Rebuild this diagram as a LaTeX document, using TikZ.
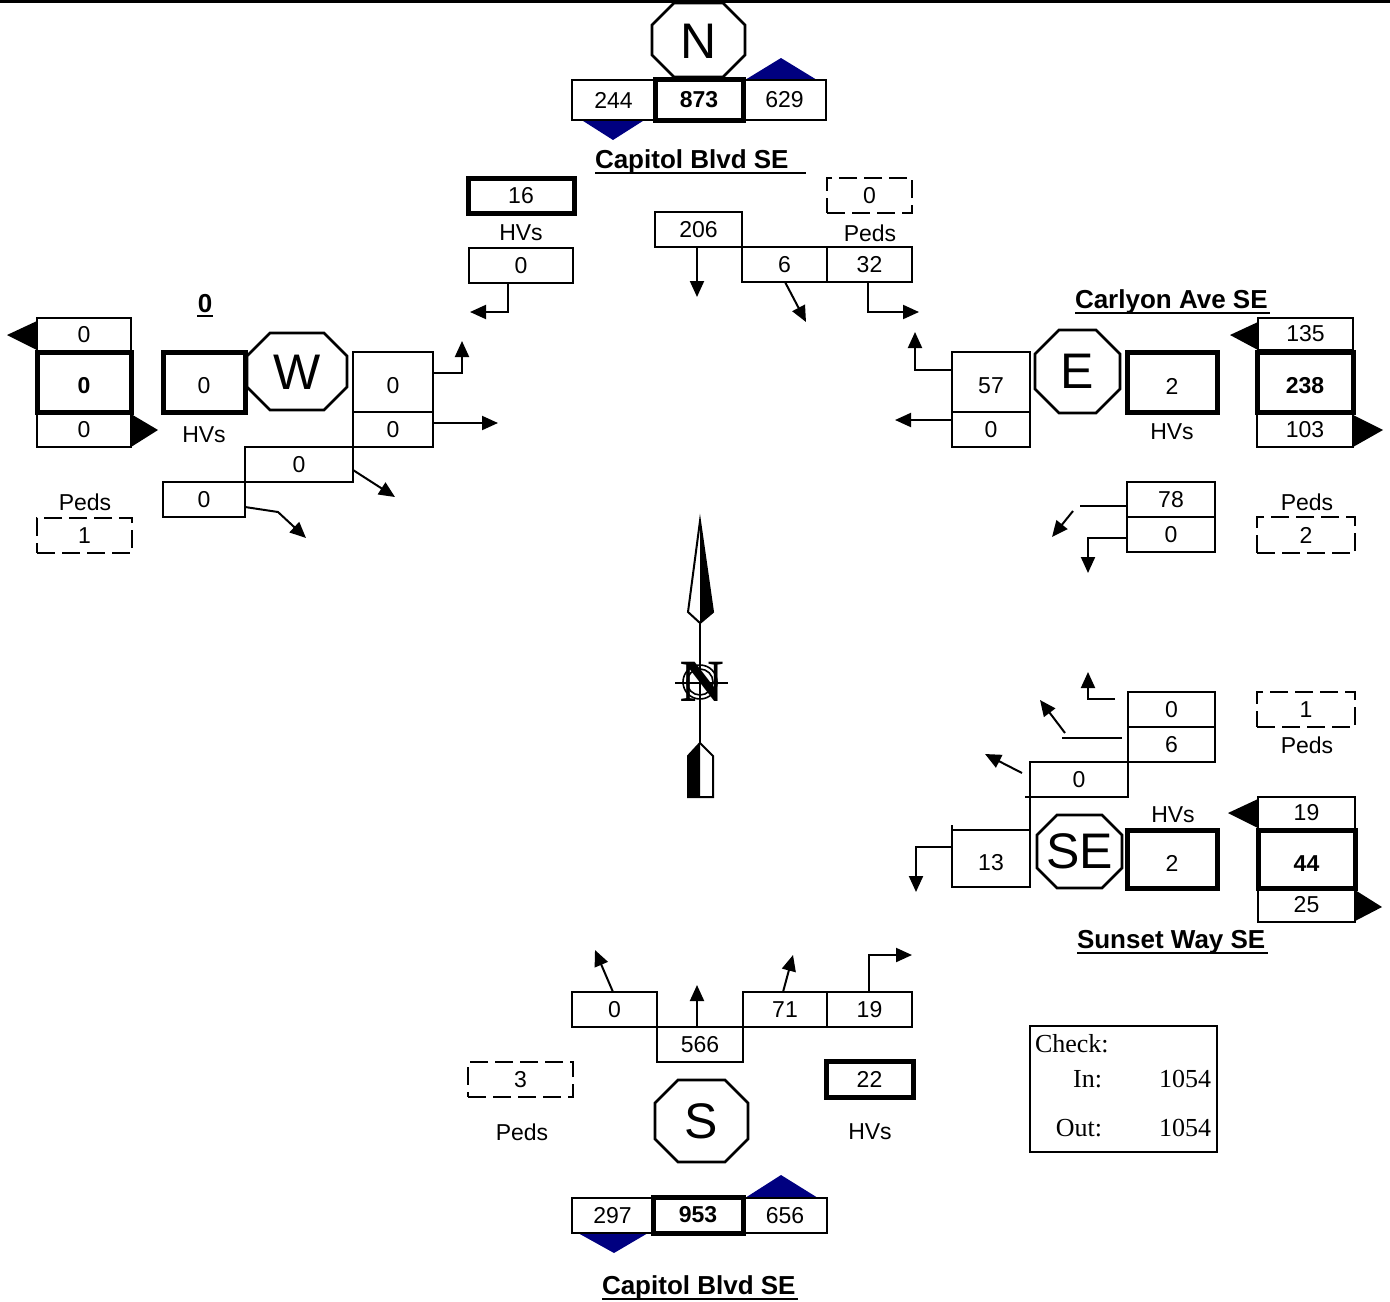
\documentclass[tikz,border=0pt]{standalone}
\usepackage{fontspec}
\setmainfont{Liberation Sans}
\newfontfamily\serifface{Liberation Serif}
\usetikzlibrary{arrows.meta}
\definecolor{navyblue}{RGB}{0,0,128}
\newcommand\myoct[5]{%
  \draw[octline] (#1+#5,#2)--(#3-#5,#2)--(#3,#2+#5)--(#3,#4-#5)--(#3-#5,#4)--(#1+#5,#4)--(#1,#4-#5)--(#1,#2+#5)--cycle;}
\newcommand\cellnode[7]{%
  \node[#1, minimum width={(#5-#3)*0.5pt}, minimum height={(#6-#4)*0.5pt}] (#2) at ({(#3+#5)/2},{(#4+#6)/2}) {#7};}
\begin{document}
\begin{tikzpicture}[x=0.5pt,y=-0.5pt,
  every node/.style={inner sep=0pt, outer sep=0pt, font=\fontsize{11.5}{13}\selectfont},
  cell/.style={draw, line width=1.3pt, inner sep=0pt},
  thickcell/.style={draw, line width=2.5pt, inner sep=0pt},
  pedcell/.style={draw, line width=1.3pt, dash pattern=on 9pt off 3.5pt, inner sep=0pt},
  conn/.style={line width=1pt, -{Triangle[length=8pt,width=7pt]}},
  segline/.style={line width=1pt},
  octline/.style={draw, line width=1.3pt},
  octlabel/.style={font=\fontsize{25}{28}\selectfont},
  road/.style={font=\bfseries\fontsize{13}{15}\selectfont},
  bignum/.style={font=\bfseries\fontsize{11.5}{13}\selectfont},
  tallt/.style={text height=12pt},
  chkfont/.style={font=\serifface\fontsize{13}{15}\selectfont}
]
\useasboundingbox (0,0) rectangle (1390,1301);
\draw[line width=1.5pt] (0,1) -- (1390,1);

% ---------------- North ----------------
\myoct{652}{3}{745}{77}{22}
\node[octlabel] (Noct) at (698.5,41) {N};
\fill[navyblue] (580,119)--(646,119)--(613,140)--cycle;
\fill[navyblue] (745,80)--(817,80)--(781,58)--cycle;
\cellnode{cell}{n244}{572}{80}{655}{120}{244}
\cellnode{thickcell,bignum}{n873}{655}{79}{743}{120}{873}
\cellnode{cell}{n629}{743}{80}{826}{120}{629}
\node[road, anchor=base west] (capN) at (595,168) {Capitol Blvd SE};
\draw[line width=1.2pt] (595,173) -- (806,173);

\cellnode{thickcell}{hvN}{468}{178}{574}{213}{16}
\node (hvNl) at (521,233) {HVs};
\cellnode{cell}{n0N}{469}{248}{573}{283}{0}
\coordinate (aN1) at (470,312);
\draw[conn] (508,0 |- n0N.south) -- (508,312) -- (aN1);

\cellnode{pedcell}{pedN}{827}{178}{912}{213}{0}
\node (pedNl) at (870,233) {Peds};
\cellnode{cell}{n206}{655}{212}{742}{247}{206}
\cellnode{cell}{n6N}{742}{247}{827}{282}{6}
\cellnode{cell}{n32}{827}{247}{912}{282}{32}
\coordinate (e206) at (697,297);
\draw[conn] (697,0 |- n206.south) -- (e206);
\coordinate (e6N) at (806,322);
\draw[conn] (785,0 |- n6N.south) -- (e6N);
\coordinate (e32) at (919,312);
\draw[conn] (868,0 |- n32.south) -- (868,312) -- (e32);

% ---------------- West ----------------
\node[road, anchor=base] (wname) at (205,312) {0};
\draw[line width=1.2pt] (197,316) -- (213,316);
\fill (37,321)--(37,350)--(7,335)--cycle;
\cellnode{cell}{wout}{37}{318}{131}{351}{0}
\cellnode{thickcell,bignum,tallt}{wtot}{37}{352}{131}{412}{0}
\cellnode{cell}{win}{37}{412}{131}{447}{0}
\fill (131,414)--(131,447)--(158,430)--cycle;
\cellnode{thickcell,tallt}{hvW}{163}{352}{245}{412}{0}
\node (hvWl) at (204,435) {HVs};
\myoct{247}{333}{347}{410}{23}
\node[octlabel] (Woct) at (297,372) {W};
\cellnode{cell,tallt}{wL}{353}{352}{433}{412}{0}
\cellnode{cell}{wT}{353}{412}{433}{447}{0}
\cellnode{cell}{wR}{245}{447}{353}{482}{0}
\cellnode{cell}{wRR}{163}{482}{245}{517}{0}
\coordinate (ewL) at (462,341);
\draw[conn] (wL.east |- 0,373) -- (462,373) -- (ewL);
\coordinate (ewT) at (498,423);
\draw[conn] (wT.east |- 0,423) -- (ewT);
\coordinate (ewR) at (395,497);
\draw[conn] (wR.east |- 0,470) -- (ewR);
\coordinate (ewRR) at (306,538);
\draw[conn] (wRR.east |- 0,507) -- (278,512) -- (ewRR);
\node (pedWl) at (85,502) {Peds};
\cellnode{pedcell}{pedW}{37}{518}{132}{553}{1}

% ---------------- East ----------------
\node[road, anchor=base west] (ename) at (1075,308) {Carlyon Ave SE};
\draw[line width=1.2pt] (1075,313) -- (1270,313);
\cellnode{cell,tallt}{eL}{952}{352}{1030}{412}{57}
\cellnode{cell}{eT}{952}{412}{1030}{447}{0}
\coordinate (eeL) at (915,332);
\draw[conn] (eL.west |- 0,370) -- (915,370) -- (eeL);
\coordinate (eeT) at (895,420);
\draw[conn] (eT.west |- 0,420) -- (eeT);
\myoct{1035}{330}{1120}{413}{24}
\node[octlabel] (Eoct) at (1077.5,371) {E};
\cellnode{thickcell,tallt}{hvE}{1127}{352}{1217}{412}{2}
\node (hvEl) at (1172,432) {HVs};
\fill (1258,322)--(1258,350)--(1230,335)--cycle;
\cellnode{cell}{eout}{1258}{318}{1353}{350}{135}
\cellnode{thickcell,bignum,tallt}{etot}{1257}{352}{1353}{412}{238}
\cellnode{cell}{ein}{1257}{413}{1353}{447}{103}
\fill (1353,415)--(1353,447)--(1383,430)--cycle;
\cellnode{cell}{eR}{1127}{482}{1215}{517}{78}
\cellnode{cell}{eU}{1127}{517}{1215}{552}{0}
\draw[segline] (eR.west |- 0,506) -- (1080,506);
\coordinate (seR) at (1073,511);
\coordinate (eeR) at (1052,537);
\draw[conn] (seR) -- (eeR);
\coordinate (eeU) at (1088,573);
\draw[conn] (eU.west |- 0,538) -- (1088,538) -- (eeU);
\node (pedEl) at (1307,502) {Peds};
\cellnode{pedcell}{pedE}{1257}{517}{1355}{553}{2}

% ---------------- Compass ----------------
\draw[line width=1pt] (700,623) -- (700,743);
\draw[line width=1pt, fill=white] (700,521)--(688,612)--(700,623)--(713,612)--cycle;
\fill (700,521)--(713,612)--(700,623)--cycle;
\draw[line width=1pt] (700,743)--(688,756)--(688,797)--(713,797)--(713,756)--cycle;
\fill (700,743)--(688,756)--(688,797)--(700,797)--cycle;
\node[font=\serifface\bfseries\fontsize{30}{34}\selectfont] (compassN) at (702,682) {N};
\draw[line width=0.8pt] (700,682) circle[radius=8.5pt];
\draw[line width=0.8pt] (700,682) circle[radius=6.5pt];
\draw[line width=1pt] (675,683) -- (728,683);

% ---------------- South-East ----------------
\cellnode{cell}{sU}{1128}{692}{1215}{727}{0}
\cellnode{cell}{sL}{1128}{727}{1215}{762}{6}
\cellnode{cell}{sT}{1030}{762}{1128}{797}{0}
\cellnode{cell,tallt}{sR}{952}{830}{1030}{887}{13}
\draw[line width=1.3pt] (sT.south west) -- (sR.north east);
\draw[line width=1.3pt] (sR.north west) -- ++(0,-5);
\draw[line width=1.3pt] (sT.south west) -- ++(-5,0);
\myoct{1037}{815}{1122}{888}{20}
\node[octlabel] (SEoct) at (1079.5,851) {SE};
\cellnode{thickcell,tallt}{hvSE}{1127}{830}{1217}{888}{2}
\node (hvSEl) at (1173,815) {HVs};
\fill (1258,799)--(1258,828)--(1228,813)--cycle;
\cellnode{cell}{seout}{1258}{797}{1355}{829}{19}
\cellnode{thickcell,bignum,tallt}{setot}{1258}{830}{1355}{888}{44}
\cellnode{cell}{sein}{1258}{888}{1355}{922}{25}
\fill (1355,890)--(1355,921)--(1382,907)--cycle;
\cellnode{pedcell}{pedSE}{1257}{692}{1355}{727}{1}
\node (pedSEl) at (1307,745) {Peds};
\node[road, anchor=base west] (sename) at (1077,948) {Sunset Way SE};
\draw[line width=1.2pt] (1077,953) -- (1268,953);
\coordinate (ssU) at (1115,699);
\coordinate (esU) at (1088,672);
\draw[conn] (ssU) -- (1088,699) -- (esU);
\coordinate (slA) at (1062,738);
\coordinate (slB) at (1122,738);
\draw[segline] (slA) -- (slB);
\coordinate (ssL) at (1065,733);
\coordinate (esL) at (1040,700);
\draw[conn] (ssL) -- (esL);
\coordinate (ssT) at (1022,773);
\coordinate (esT) at (985,754);
\draw[conn] (ssT) -- (esT);
\coordinate (esR) at (916,892);
\draw[conn] (sR.west |- 0,847) -- (916,847) -- (esR);

% ---------------- South ----------------
\cellnode{cell}{sN0}{572}{992}{657}{1027}{0}
\cellnode{cell}{s566}{657}{1027}{743}{1062}{566}
\cellnode{cell}{s71}{743}{992}{827}{1027}{71}
\cellnode{cell}{s19}{827}{992}{912}{1027}{19}
\coordinate (eS0) at (595,950);
\draw[conn] (613,0 |- sN0.north) -- (eS0);
\coordinate (eS566) at (697,985);
\draw[conn] (697,0 |- s566.north) -- (eS566);
\coordinate (eS71) at (793,955);
\draw[conn] (783,0 |- s71.north) -- (eS71);
\coordinate (eS19) at (912,955);
\draw[conn] (869,0 |- s19.north) -- (869,955) -- (eS19);
\cellnode{pedcell}{pedS}{468}{1062}{573}{1097}{3}
\node (pedSl) at (522,1132) {Peds};
\myoct{655}{1080}{748}{1162}{23}
\node[octlabel] (Soct) at (701.5,1121) {S};
\cellnode{thickcell}{hvS}{826}{1061}{913}{1097}{22}
\node (hvSl) at (870,1132) {HVs};
\fill[navyblue] (578,1233)--(648,1233)--(614,1253)--cycle;
\fill[navyblue] (745,1198)--(818,1198)--(781,1175)--cycle;
\cellnode{cell}{s297}{572}{1198}{653}{1233}{297}
\cellnode{thickcell,bignum}{s953}{653}{1197}{743}{1233}{953}
\cellnode{cell}{s656}{743}{1198}{827}{1233}{656}
\node[road, anchor=base west] (sname) at (602,1294) {Capitol Blvd SE};
\draw[line width=1.2pt] (602,1299) -- (798,1299);

% ---------------- Check ----------------
\cellnode{draw,line width=1.3pt}{chk}{1030}{1026}{1217}{1152}{}
\node[chkfont, anchor=base west] (chkT) at (1035,1052) {Check:};
\node[chkfont, anchor=base east] (inL) at (1102,1087) {In:};
\node[chkfont, anchor=base east] (inV) at (1211,1087) {1054};
\node[chkfont, anchor=base east] (outL) at (1102,1136) {Out:};
\node[chkfont, anchor=base east] (outV) at (1211,1136) {1054};
\end{tikzpicture}
\end{document}
